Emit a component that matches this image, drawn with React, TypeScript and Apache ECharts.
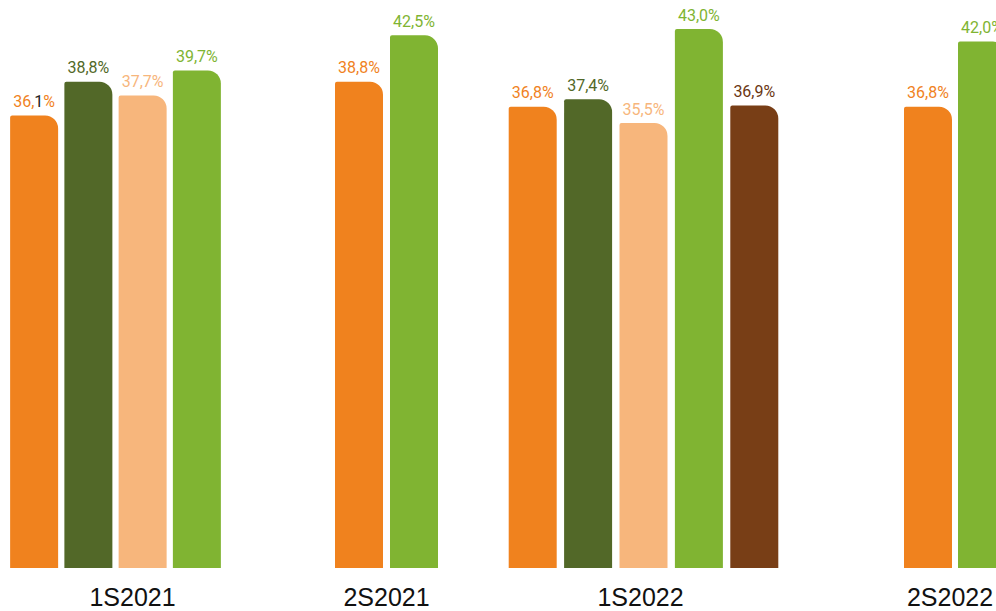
import React, { useEffect, useRef } from 'react';
import * as echarts from 'echarts';

const periods = ['1S2021', '2S2021', '1S2022', '2S2022'];

const values1S2021 = [36.1, 38.8, 37.7, 39.7];
const values2S2021 = [38.8, 42.5];
const values1S2022 = [36.8, 37.4, 35.5, 43.0, 36.9];
const values2S2022 = [36.8, 42.0];

const kinds1S2021 = ['orange', 'olive', 'light', 'green'];
const kinds2S2021 = ['orange', 'green'];
const kinds1S2022 = ['orange', 'olive', 'light', 'green', 'brown'];
const kinds2S2022 = ['orange', 'green'];

const palette: Record<string, string> = {
  orange: '#F0821E',
  olive: '#526828',
  light: '#F7B67C',
  green: '#80B432',
  brown: '#783E16',
};
const labelPalette: Record<string, string> = {
  orange: '#F0821E',
  olive: '#526828',
  light: '#F7B67C',
  green: '#80B432',
  brown: '#6A3612',
};

const groupValues = [values1S2021, values2S2021, values1S2022, values2S2022];
const groupKinds = [kinds1S2021, kinds2S2021, kinds1S2022, kinds2S2022];

const grids = [
  { left: 7, width: 217 },
  { left: 331.5, width: 110 },
  { left: 505, width: 277 },
  { left: 901, width: 108 },
];
const namePadding = [
  [0, 0, 0, 34],
  [0, 0, 0, 0],
  [0, 6, 0, 0],
  [0, 10, 0, 0],
];

const fmt = (v: number) => v.toFixed(1).replace('.', ',');

export default function App() {
  const ref = useRef<HTMLDivElement>(null);
  useEffect(() => {
    document.body.style.margin = '0';
    const chart = echarts.init(ref.current!, null, { renderer: 'svg' });
    const option: any = {
      animation: false,
      grid: grids.map((g) => ({
        left: g.left,
        width: g.width,
        top: 4,
        bottom: 43,
        containLabel: false,
        outerBoundsMode: 'none',
      })),
      xAxis: periods.map((p, i) => ({
        type: 'category',
        gridIndex: i,
        data: groupValues[i].map((_, j) => `${p}-${j}`),
        axisLine: { show: false },
        axisTick: { show: false },
        axisLabel: { show: false },
        splitLine: { show: false },
        name: p,
        nameLocation: 'middle',
        nameGap: 16,
        nameTextStyle: {
          fontFamily: 'Liberation Sans, Arial, sans-serif',
          fontSize: 25,
          color: '#111111',
          padding: namePadding[i],
        },
      })),
      yAxis: periods.map((_, i) => ({
        type: 'value',
        gridIndex: i,
        min: 0,
        max: 45,
        show: false,
        splitLine: { show: false },
      })),
      series: periods.map((p, i) => ({
        type: 'bar',
        name: p,
        xAxisIndex: i,
        yAxisIndex: i,
        barWidth: 48,
        data: groupValues[i].map((v, j) => {
          const kind = groupKinds[i][j];
          const item: any = {
            value: v,
            itemStyle: { color: palette[kind], borderRadius: [2, 13, 0, 0] },
            label: { color: labelPalette[kind] },
          };
          if (i === 0 && j === 0) {
            const s = fmt(v);
            item.label = {
              formatter: `{a|${s.slice(0, -1)}}{b|${s.slice(-1)}}{a|%}`,
              rich: {
                a: { color: labelPalette[kind], fontSize: 16, fontFamily: 'Roboto, sans-serif' },
                b: { color: '#222222', fontSize: 16, fontFamily: 'Roboto, sans-serif' },
              },
            };
          }
          return item;
        }),
        label: {
          show: true,
          position: 'top',
          distance: 6,
          fontFamily: 'Roboto, sans-serif',
          fontSize: 16,
          formatter: (prm: any) => `${fmt(prm.value)}%`,
        },
      })),
    };
    chart.setOption(option);
    return () => chart.dispose();
  }, []);
  return <div ref={ref} style={{ width: 996, height: 611 }} />;
}
